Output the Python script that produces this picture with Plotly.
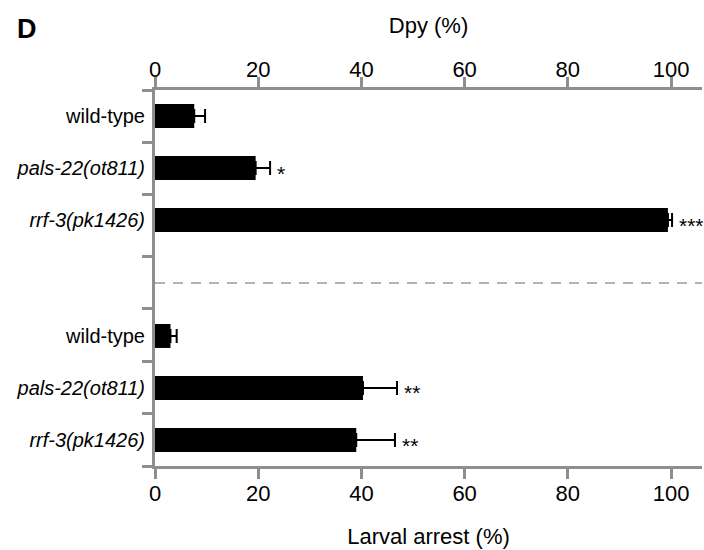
import plotly.graph_objects as go

# ---- data ----
categories = ["wild-type", "<i>pals-22(ot811)</i>", "<i>rrf-3(pk1426)</i>",
              "wild-type", "<i>pals-22(ot811)</i>", "<i>rrf-3(pk1426)</i>"]
values = [7.6, 19.5, 99.4, 3.0, 40.3, 39.0]
errors = [2.1, 2.8, 0.8, 1.2, 6.6, 7.5]
stars = ["", "*", "***", "", "**", "**"]
# row positions (top group: Dpy, bottom group: Larval arrest)
positions = [0.5, 1.5, 2.5, 4.73, 5.73, 6.73]
row_ticks = [0, 1, 2, 3.21, 4.21, 5.23, 6.23, 7.23]
separator = 3.71
x_ticks = [0, 20, 40, 60, 80, 100]

FONT = "Liberation Sans, Arial, sans-serif"
GRAY = "#8e8e8e"

fig = go.Figure()
fig.add_trace(go.Bar(
    x=values, y=positions, orientation="h", width=0.46,
    marker=dict(color="black", line=dict(width=0)),
    error_x=dict(type="data", array=errors, arrayminus=[0] * len(errors),
                 symmetric=False, color="black", thickness=2, width=7),
    showlegend=False, hoverinfo="skip",
))
# invisible trace to anchor the top axis and the label axis
fig.add_trace(go.Scatter(
    x=[0], y=[positions[0]], xaxis="x2", yaxis="y2", mode="markers",
    marker=dict(opacity=0), showlegend=False, hoverinfo="skip",
))

for v, e, p, s in zip(values, errors, positions, stars):
    if s:
        fig.add_annotation(x=v + e, y=p, text=s, showarrow=False,
                           xanchor="left", xshift=5, yshift=-5,
                           font=dict(family=FONT, size=21, color="black"))

fig.add_shape(type="line", xref="paper", x0=0, x1=1, yref="y",
              y0=separator, y1=separator,
              line=dict(color="#999999", width=1.5, dash="10px,8px"))

fig.add_annotation(xref="paper", yref="paper", x=-0.256, y=1.163,
                   text="<b>D</b>", showarrow=False, xanchor="left",
                   yanchor="middle", font=dict(family=FONT, size=27, color="black"))

axis_common = dict(range=[0, 106], tickvals=x_ticks, showline=True,
                   linecolor=GRAY, linewidth=2.5, ticks="outside",
                   ticklen=10, tickwidth=2.5, tickcolor=GRAY,
                   showgrid=False, zeroline=False,
                   tickfont=dict(family=FONT, size=22, color="black"))

fig.update_layout(
    width=704, height=550,
    margin=dict(l=155, r=2, t=90, b=84),
    paper_bgcolor="white", plot_bgcolor="white",
    font=dict(family=FONT, color="black"),
    xaxis=dict(**axis_common, ticklabelstandoff=-4,
               title=dict(text="Larval arrest (%)", standoff=24,
                          font=dict(family=FONT, size=22))),
    xaxis2=dict(**axis_common, overlaying="x", side="top", anchor="y",
                ticklabelstandoff=-9,
                title=dict(text="Dpy (%)", standoff=18,
                           font=dict(family=FONT, size=22))),
    yaxis=dict(range=[7.23, 0], tickvals=row_ticks, showticklabels=False,
               showline=True, linecolor=GRAY, linewidth=2.5,
               ticks="outside", ticklen=10, tickwidth=2.5, tickcolor=GRAY,
               showgrid=False, zeroline=False),
    yaxis2=dict(range=[7.23, 0], overlaying="y", side="left", anchor="x",
                tickvals=positions, ticktext=categories,
                ticks="outside", ticklen=5, tickcolor="rgba(0,0,0,0)",
                showline=False, showgrid=False, zeroline=False,
                tickfont=dict(family=FONT, size=20, color="black")),
)

fig.write_html("out.html")
